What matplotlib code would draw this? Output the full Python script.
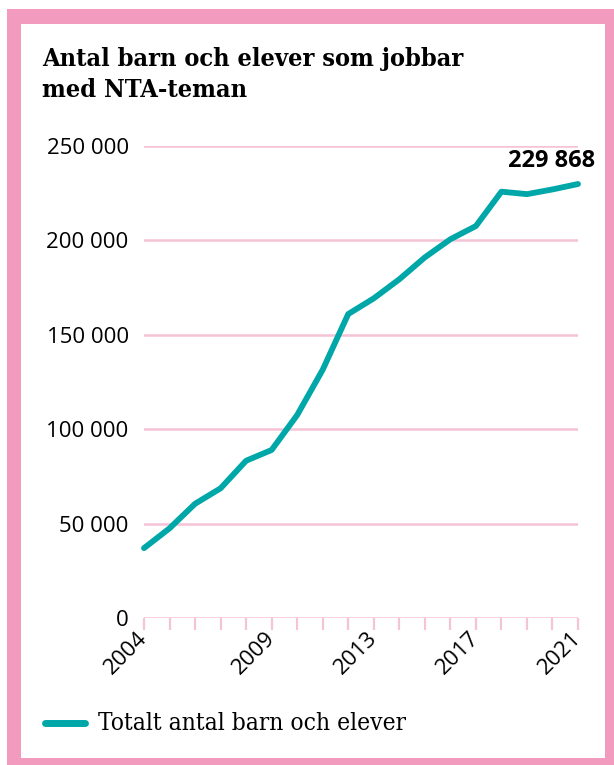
import matplotlib.pyplot as plt
from matplotlib.patches import Rectangle
from matplotlib.lines import Line2D

# data
years = list(range(2004, 2022))
elever = [37000, 47500, 60500, 68700, 83300, 89000, 107500, 131500, 161000,
          169300, 179400, 191000, 200600, 207600, 225800, 224500, 227000, 229868]
label_years = [2004, 2009, 2013, 2017, 2021]
yticks = [0, 50000, 100000, 150000, 200000, 250000]

teal = "#00A7A8"
pink = "#F29BBF"
grid_pink = "#F5C3D6"
W, H = 614, 765

fig = plt.figure(figsize=(6.14, 7.65), dpi=100)

# pink frame: outer pink box, white box inside
fig.patches.append(Rectangle((7/W, 0), 1 - 7/W, 1 - 9/H, transform=fig.transFigure,
                             facecolor=pink, edgecolor="none", zorder=-2))
fig.patches.append(Rectangle((21/W, 1 - 758/H), (605 - 21)/W, (758 - 24)/H,
                             transform=fig.transFigure, facecolor="white",
                             edgecolor="none", zorder=-1))

fig.text(42/W, 1 - 47/H, "Antal barn och elever som jobbar\nmed NTA-teman",
         family="DejaVu Serif", stretch="condensed", weight="bold", fontsize=18.2,
         va="top", ha="left", linespacing=1.38)

ax = fig.add_axes([144/W, 1 - 618/H, (578 - 144)/W, (618 - 146)/H])
ax.patch.set_alpha(0)
ax.plot(years, elever, color=teal, lw=4.2, solid_capstyle="round",
        solid_joinstyle="round", clip_on=False, zorder=3)

ax.set_xlim(2004, 2021)
ax.set_ylim(0, 250000)
ax.set_yticks(yticks)
ax.set_yticklabels([f"{v:,}".replace(",", " ") for v in yticks],
                   family="Open Sans", fontsize=16)
for v in yticks:
    ax.axhline(v, color=grid_pink, lw=1.8, zorder=1, xmin=-0.007)
ax.tick_params(axis="y", length=0, pad=11)

ax.set_xticks(years, minor=True)
ax.set_xticks(label_years)
ax.set_xticklabels([str(y) for y in label_years], rotation=45, ha="right",
                   va="center", rotation_mode="anchor", family="Open Sans", fontsize=16)
ax.tick_params(axis="x", which="both", length=8.6, width=1.6, color=grid_pink, pad=4)

for s in ax.spines.values():
    s.set_visible(False)

ax.annotate("229 868", (years[-1], elever[-1]), xytext=(12, 8), textcoords="offset points",
            ha="right", va="bottom", family="Open Sans", weight="bold", fontsize=17)

# legend
fig.add_artist(Line2D([45/W, 85/W], [1 - 723/H] * 2, color=teal, lw=5,
                      solid_capstyle="round", transform=fig.transFigure))
fig.text(98/W, 1 - 724/H, "Totalt antal barn och elever", family="DejaVu Serif",
         stretch="condensed", fontsize=17.6, va="center", ha="left")

fig.savefig("out.png", dpi=100, facecolor="white")
